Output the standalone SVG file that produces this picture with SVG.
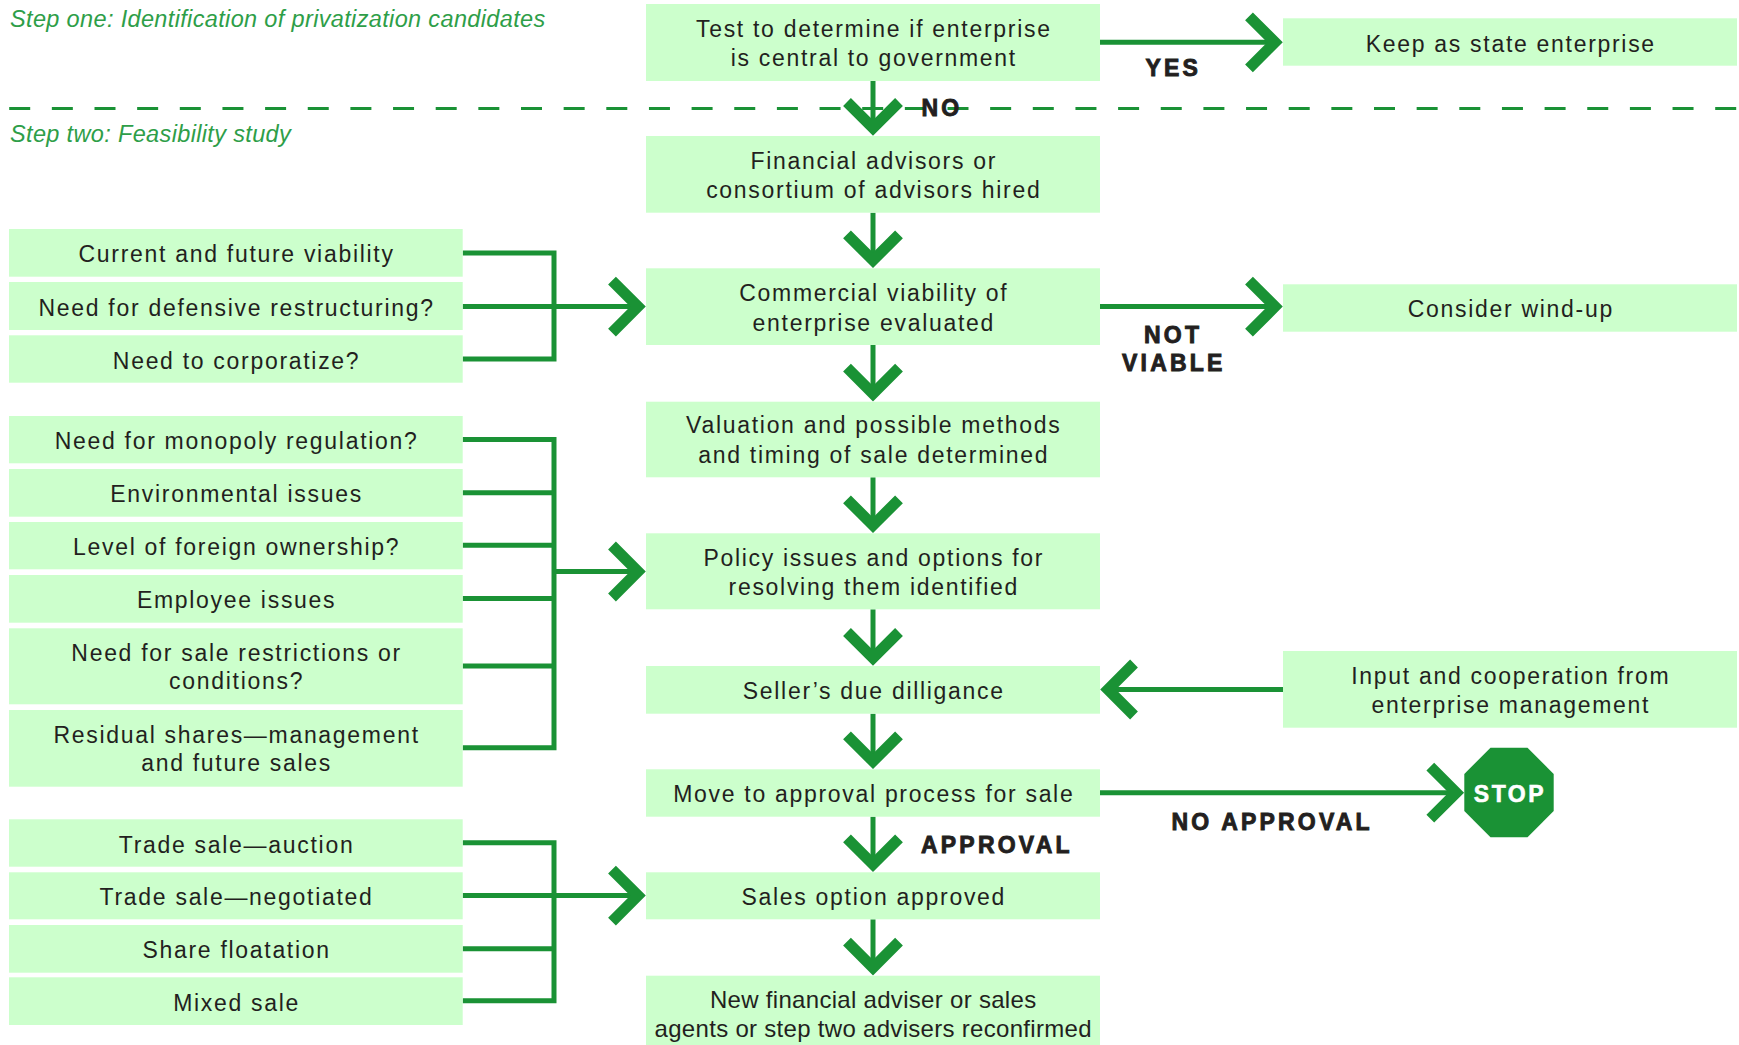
<svg xmlns="http://www.w3.org/2000/svg" xmlns:xlink="http://www.w3.org/1999/xlink" width="1739" height="1045" viewBox="0 0 1739 1045">
<defs>
<style>
.box{fill:#ccffcc}
.t{font-family:"Liberation Sans",Arial,Helvetica,sans-serif;font-size:23px;letter-spacing:1.7px;fill:#231f20;text-anchor:middle}
.tn{font-family:"Liberation Sans",Arial,Helvetica,sans-serif;font-size:24px;letter-spacing:0.3px;fill:#231f20;text-anchor:middle}
.lbl{font-family:"Liberation Sans",Arial,Helvetica,sans-serif;font-weight:bold;font-size:23px;letter-spacing:3.2px;fill:#231f20;stroke:#231f20;stroke-width:0.9px}
.step{font-family:"Liberation Sans",Arial,Helvetica,sans-serif;font-style:italic;font-size:23.5px;letter-spacing:0.35px;fill:#2e9e48}
.ln{stroke:#1a9235;stroke-width:5;fill:none;stroke-linejoin:miter}
.dash{stroke:#1a9235;stroke-width:3;fill:none;stroke-dasharray:21 21.65}
.chev{stroke:#1a9235;stroke-width:11;fill:none;stroke-linejoin:miter;stroke-miterlimit:10}
.stop{fill:#1a9235}
.stopt{font-family:"Liberation Sans",Arial,Helvetica,sans-serif;font-weight:bold;font-size:23px;letter-spacing:2.6px;fill:#ffffff;stroke:#ffffff;stroke-width:0.6px;text-anchor:middle}
</style>
<path id="chev" class="chev" d="M-26,-34 L0,-8 L26,-34"/>
</defs>
<rect width="1739" height="1045" fill="#ffffff"/>

<g id="steps">
<text class="step" x="10" y="27">Step one: Identification of privatization candidates</text>
<text class="step" x="10" y="142">Step two: Feasibility study</text>
</g>

<g id="connectors">
<line class="dash" x1="9.2" y1="108.5" x2="1737" y2="108.5"/>
<line class="ln" x1="873" y1="81" x2="873" y2="128"/>
<line class="ln" x1="873" y1="212.7" x2="873" y2="260"/>
<line class="ln" x1="873" y1="345" x2="873" y2="393"/>
<line class="ln" x1="873" y1="477.3" x2="873" y2="525"/>
<line class="ln" x1="873" y1="609.3" x2="873" y2="658"/>
<line class="ln" x1="873" y1="713.7" x2="873" y2="761"/>
<line class="ln" x1="873" y1="816.7" x2="873" y2="864"/>
<line class="ln" x1="873" y1="919.3" x2="873" y2="967"/>
<use xlink:href="#chev" href="#chev" transform="translate(873,136)"/>
<use xlink:href="#chev" href="#chev" transform="translate(873,268.3)"/>
<use xlink:href="#chev" href="#chev" transform="translate(873,401.7)"/>
<use xlink:href="#chev" href="#chev" transform="translate(873,533.3)"/>
<use xlink:href="#chev" href="#chev" transform="translate(873,666)"/>
<use xlink:href="#chev" href="#chev" transform="translate(873,769.3)"/>
<use xlink:href="#chev" href="#chev" transform="translate(873,872.3)"/>
<use xlink:href="#chev" href="#chev" transform="translate(873,975.7)"/>
<line class="ln" x1="1100" y1="42.3" x2="1275" y2="42.3"/>
<use xlink:href="#chev" href="#chev" transform="translate(1283,42.3) rotate(-90)"/>
<line class="ln" x1="1100" y1="306.6" x2="1275" y2="306.6"/>
<use xlink:href="#chev" href="#chev" transform="translate(1283,306.6) rotate(-90)"/>
<line class="ln" x1="1283" y1="689.5" x2="1108" y2="689.5"/>
<use xlink:href="#chev" href="#chev" transform="translate(1100,689.5) rotate(90)"/>
<line class="ln" x1="1100" y1="792.7" x2="1456" y2="792.7"/>
<use xlink:href="#chev" href="#chev" transform="translate(1464.3,792.7) rotate(-90)"/>
<polyline class="ln" points="462.7,252.9 554,252.9 554,359 462.7,359"/>
<line class="ln" x1="462.7" y1="306.6" x2="638" y2="306.6"/>
<use xlink:href="#chev" href="#chev" transform="translate(646,306.6) rotate(-90)"/>
<polyline class="ln" points="462.7,439.5 554,439.5 554,747.7 462.7,747.7"/>
<line class="ln" x1="462.7" y1="492.8" x2="554" y2="492.8"/>
<line class="ln" x1="462.7" y1="545.2" x2="554" y2="545.2"/>
<line class="ln" x1="462.7" y1="598.5" x2="554" y2="598.5"/>
<line class="ln" x1="462.7" y1="665.9" x2="554" y2="665.9"/>
<line class="ln" x1="554" y1="571.5" x2="638" y2="571.5"/>
<use xlink:href="#chev" href="#chev" transform="translate(646,571.5) rotate(-90)"/>
<polyline class="ln" points="462.7,842.8 554,842.8 554,1000.8 462.7,1000.8"/>
<line class="ln" x1="462.7" y1="948.8" x2="554" y2="948.8"/>
<line class="ln" x1="462.7" y1="895.6" x2="638" y2="895.6"/>
<use xlink:href="#chev" href="#chev" transform="translate(646,895.6) rotate(-90)"/>
</g>

<g id="labels">
<text class="lbl" x="921.5" y="116">NO</text>
<text class="lbl" x="1145.5" y="76">YES</text>
<text class="lbl" x="1144" y="343.3">NOT</text>
<text class="lbl" x="1122" y="371">VIABLE</text>
<text class="lbl" x="921" y="853.3">APPROVAL</text>
<text class="lbl" x="1171.5" y="830">NO APPROVAL</text>
</g>

<g id="n-test"><rect class="box" x="646" y="4" width="454" height="77"/><text class="t" x="873.8" y="36.5">Test to determine if enterprise</text><text class="t" x="873.8" y="66">is central to government</text></g>
<g id="n-financial"><rect class="box" x="646" y="136" width="454" height="76.7"/><text class="t" x="873.8" y="168.5">Financial advisors or</text><text class="t" x="873.8" y="198">consortium of advisors hired</text></g>
<g id="n-commercial"><rect class="box" x="646" y="268.3" width="454" height="76.7"/><text class="t" x="873.8" y="301">Commercial viability of</text><text class="t" x="873.8" y="330.5">enterprise evaluated</text></g>
<g id="n-valuation"><rect class="box" x="646" y="401.7" width="454" height="75.6"/><text class="t" x="873.8" y="433.3">Valuation and possible methods</text><text class="t" x="873.8" y="462.5">and timing of sale determined</text></g>
<g id="n-policy"><rect class="box" x="646" y="533.3" width="454" height="76"/><text class="t" x="873.8" y="565.7">Policy issues and options for</text><text class="t" x="873.8" y="595">resolving them identified</text></g>
<g id="n-seller"><rect class="box" x="646" y="666" width="454" height="47.7"/><text class="t" x="873.8" y="699">Seller’s due dilligance</text></g>
<g id="n-move"><rect class="box" x="646" y="769.3" width="454" height="47.4"/><text class="t" x="873.8" y="801.7">Move to approval process for sale</text></g>
<g id="n-sales"><rect class="box" x="646" y="872.3" width="454" height="47"/><text class="t" x="873.8" y="905">Sales option approved</text></g>
<g id="n-new"><rect class="box" x="646" y="975.7" width="454" height="69.3"/><text class="tn" x="873.2" y="1007.7">New financial adviser or sales</text><text class="tn" x="873.2" y="1036.7">agents or step two advisers reconfirmed</text></g>

<g id="n-keep"><rect class="box" x="1283" y="18.3" width="454" height="47.4"/><text class="t" x="1510.8" y="51.7">Keep as state enterprise</text></g>
<g id="n-windup"><rect class="box" x="1283" y="284.3" width="454" height="47.4"/><text class="t" x="1510.8" y="316.7">Consider wind-up</text></g>
<g id="n-input"><rect class="box" x="1283" y="651" width="454" height="76.7"/><text class="t" x="1510.8" y="684">Input and cooperation from</text><text class="t" x="1510.8" y="713.3">enterprise management</text></g>
<g id="n-stop"><polygon class="stop" points="1490.5,747.7 1527.5,747.7 1553.7,774 1553.7,811 1527.5,837.3 1490.5,837.3 1464.3,811 1464.3,774"/><text class="stopt" x="1510" y="801.7">STOP</text></g>

<g id="n-current"><rect class="box" x="9" y="229" width="453.7" height="47.7"/><text class="t" x="236.6" y="262.4">Current and future viability</text></g>
<g id="n-defensive"><rect class="box" x="9" y="282" width="453.7" height="48"/><text class="t" x="236.6" y="315.5">Need for defensive restructuring?</text></g>
<g id="n-corporatize"><rect class="box" x="9" y="335.3" width="453.7" height="47.4"/><text class="t" x="236.6" y="368.5">Need to corporatize?</text></g>
<g id="n-monopoly"><rect class="box" x="9" y="416" width="453.7" height="47.3"/><text class="t" x="236.6" y="449.2">Need for monopoly regulation?</text></g>
<g id="n-environment"><rect class="box" x="9" y="469" width="453.7" height="47.7"/><text class="t" x="236.6" y="502">Environmental issues</text></g>
<g id="n-foreign"><rect class="box" x="9" y="522" width="453.7" height="47.3"/><text class="t" x="236.6" y="555">Level of foreign ownership?</text></g>
<g id="n-employee"><rect class="box" x="9" y="575" width="453.7" height="47.7"/><text class="t" x="236.6" y="608">Employee issues</text></g>
<g id="n-restrictions"><rect class="box" x="9" y="628.3" width="453.7" height="76"/><text class="t" x="236.6" y="661">Need for sale restrictions or</text><text class="t" x="236.6" y="689.3">conditions?</text></g>
<g id="n-residual"><rect class="box" x="9" y="710" width="453.7" height="76.7"/><text class="t" x="236.6" y="742.7">Residual shares—management</text><text class="t" x="236.6" y="770.7">and future sales</text></g>
<g id="n-auction"><rect class="box" x="9" y="819.3" width="453.7" height="47.4"/><text class="t" x="236.6" y="852.5">Trade sale—auction</text></g>
<g id="n-negotiated"><rect class="box" x="9" y="872.3" width="453.7" height="47"/><text class="t" x="236.6" y="905.3">Trade sale—negotiated</text></g>
<g id="n-floatation"><rect class="box" x="9" y="925" width="453.7" height="47.7"/><text class="t" x="236.6" y="958.4">Share floatation</text></g>
<g id="n-mixed"><rect class="box" x="9" y="977.3" width="453.7" height="47.7"/><text class="t" x="236.6" y="1010.7">Mixed sale</text></g>
</svg>
